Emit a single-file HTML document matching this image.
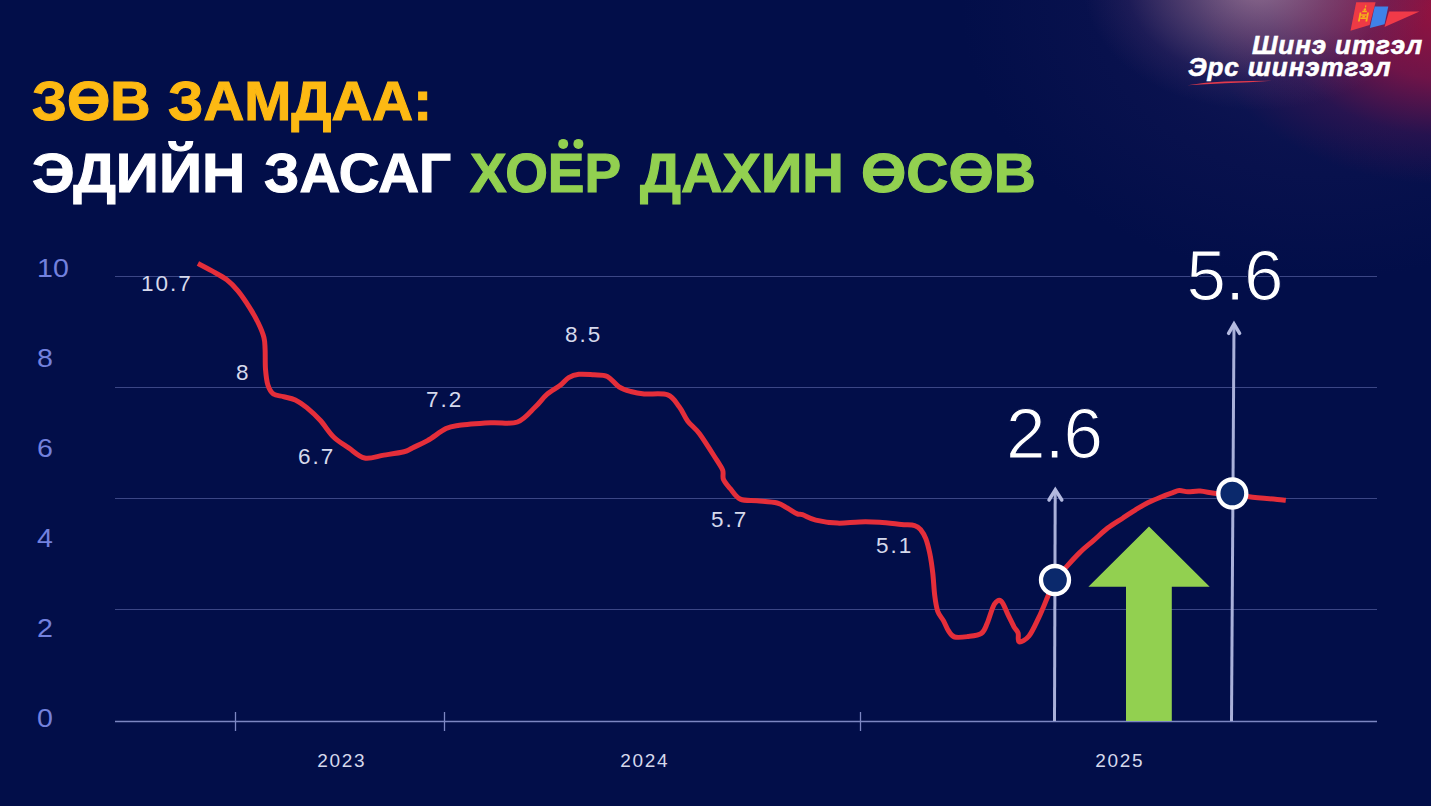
<!DOCTYPE html>
<html><head><meta charset="utf-8">
<style>
html,body{margin:0;padding:0;}
body{width:1431px;height:806px;overflow:hidden;position:relative;background:#020E49;font-family:"Liberation Sans",sans-serif;}
.bg{position:absolute;left:0;top:0;width:1431px;height:806px;
background:
radial-gradient(ellipse 175px 125px at 1258px -15px, rgba(180,140,165,0.72) 0%, rgba(150,105,140,0.5) 40%, rgba(95,60,115,0.22) 75%, rgba(1,15,72,0) 100%),
radial-gradient(ellipse 250px 175px at 1450px 10px, rgba(150,18,62,1) 0%, rgba(135,20,70,0.8) 40%, rgba(80,20,80,0.4) 72%, rgba(1,15,72,0) 100%),
radial-gradient(ellipse 360px 280px at 1320px 0px, rgba(55,45,110,0.4) 0%, rgba(35,30,95,0.22) 55%, rgba(1,15,72,0) 100%);
}
.t{position:absolute;white-space:nowrap;line-height:1;}
.title{font-weight:bold;font-size:56px;transform-origin:0 0;}
.ylab{color:#7381DE;font-size:26px;transform:scaleX(1.1);transform-origin:0 0;}
.dlab{color:#D6D9EC;font-size:22.5px;letter-spacing:2px;}
.xlab{color:#D6D9EC;font-size:19px;letter-spacing:1.7px;}
.big{color:#fff;font-size:71px;letter-spacing:-0.8px;-webkit-text-stroke:1.2px #020E49;}
.logo{color:#fff;font-weight:bold;font-style:italic;font-size:26px;letter-spacing:0.9px;-webkit-text-stroke:0.6px #fff;transform-origin:0 0;}
</style></head><body>
<div class="bg"></div>
<div class="t title" style="left:32.4px;top:73px;color:#FDB913;transform:scaleX(0.995);-webkit-text-stroke:1.1px #FDB913">ЗӨВ</div>
<div class="t title" style="left:168.2px;top:73px;color:#FDB913;transform:scaleX(1.009);-webkit-text-stroke:1.1px #FDB913">ЗАМДАА:</div>
<div class="t title" style="left:32.1px;top:144.85px;color:#fff;transform:scaleX(1.07);-webkit-text-stroke:1.1px #fff">ЭДИЙН</div>
<div class="t title" style="left:264.3px;top:144.85px;color:#fff;transform:scaleX(1.009);-webkit-text-stroke:1.1px #fff">ЗАСАГ</div>
<div class="t title" style="left:470.3px;top:144.85px;color:#92D050;transform:scaleX(0.98);-webkit-text-stroke:1.1px #92D050">ХОЕР</div>
<div class="t title" style="left:640.3px;top:144.85px;color:#92D050;transform:scaleX(1.028);-webkit-text-stroke:1.1px #92D050">ДАХИН</div>
<div class="t title" style="left:860.9px;top:144.85px;color:#92D050;transform:scaleX(1.041);-webkit-text-stroke:1.1px #92D050">ӨСӨВ</div>

<svg style="position:absolute;left:0;top:0" width="1431" height="806">
  <g stroke="#3B4685" stroke-width="1">
    <line x1="115" y1="276.5" x2="1377" y2="276.5"/>
    <line x1="115" y1="387.5" x2="1377" y2="387.5"/>
    <line x1="115" y1="498.5" x2="1377" y2="498.5"/>
    <line x1="115" y1="609.5" x2="1377" y2="609.5"/>
  </g>
  <g stroke="#7C86C2" stroke-width="1.3">
    <line x1="115" y1="721.5" x2="1377" y2="721.5"/>
    <line x1="235.5" y1="712" x2="235.5" y2="731"/>
    <line x1="444.5" y1="712" x2="444.5" y2="731"/>
    <line x1="860.5" y1="712" x2="860.5" y2="731"/>
  </g>
  <path id="redline" fill="none" stroke="#E42E3A" stroke-width="5" stroke-linejoin="round" stroke-linecap="butt" d="M197.9,263.5 C200.2,264.7 207.1,268.2 211.9,270.9 C216.7,273.6 222.5,276.5 226.8,279.8 C231.1,283.1 233.9,286.1 237.7,290.7 C241.5,295.3 246.1,302.1 249.6,307.6 C253.1,313.1 256.1,318.5 258.5,323.5 C260.9,328.5 262.8,333.1 263.9,337.4 C265.0,341.7 264.8,344.0 265.1,349.3 C265.4,354.6 265.0,363.2 265.5,369.2 C266.0,375.2 266.6,381.0 267.9,385.1 C269.2,389.2 270.8,392.1 273.4,394.0 C276.0,395.9 279.8,395.6 283.4,396.6 C287.0,397.6 291.4,398.1 295.3,400.0 C299.2,401.9 302.7,404.3 306.8,407.7 C310.9,411.1 315.7,415.4 320.2,420.3 C324.7,425.2 328.9,432.4 333.6,437.0 C338.4,441.6 343.5,444.4 348.7,447.9 C353.9,451.4 358.7,456.8 364.6,458.0 C370.5,459.2 377.3,456.1 383.9,455.1 C390.5,454.1 399.2,453.0 404.0,451.8 C408.8,450.6 408.5,449.8 412.4,447.9 C416.3,446.0 421.9,443.9 427.5,440.7 C433.1,437.5 440.7,431.2 446.0,428.6 C451.3,426.0 451.8,426.3 459.4,425.3 C466.9,424.3 481.6,423.4 491.3,422.8 C501.0,422.2 510.2,424.6 517.5,422.0 C524.8,419.4 530.3,411.6 535.2,407.0 C540.1,402.4 542.7,398.0 546.9,394.4 C551.1,390.8 556.7,388.0 560.3,385.2 C563.9,382.4 565.6,379.4 568.7,377.6 C571.8,375.8 574.6,374.8 578.8,374.3 C583.0,373.8 589.1,374.5 593.9,374.8 C598.6,375.1 603.1,374.4 607.3,376.4 C611.5,378.4 615.1,384.3 619.0,386.8 C622.9,389.3 626.6,390.3 630.8,391.5 C635.0,392.7 638.1,393.4 644.2,394.0 C650.4,394.6 661.8,392.7 667.7,394.9 C673.6,397.1 676.0,402.6 679.4,407.0 C682.8,411.4 684.4,416.7 687.8,421.2 C691.1,425.7 694.7,427.3 699.5,433.8 C704.3,440.3 712.9,454.1 716.8,460.2 C720.7,466.3 721.6,467.1 722.7,470.3 C723.8,473.5 722.2,476.4 723.5,479.5 C724.8,482.6 727.5,485.4 730.3,488.7 C733.1,492.0 735.8,497.1 740.3,499.1 C744.8,501.1 751.0,500.2 757.1,500.8 C763.2,501.4 772.2,501.8 777.2,503.0 C782.2,504.2 783.9,506.2 787.3,508.0 C790.6,509.8 794.8,512.8 797.3,513.9 C799.8,515.0 799.3,513.7 802.4,514.7 C805.5,515.7 809.9,518.7 815.8,520.1 C821.7,521.5 830.3,522.8 837.6,523.1 C844.9,523.4 852.4,522.0 859.4,521.9 C866.4,521.8 872.5,521.8 879.5,522.2 C886.5,522.6 895.4,523.8 901.3,524.4 C907.2,525.0 911.5,524.7 914.7,525.6 C918.0,526.5 918.9,527.6 920.8,529.8 C922.6,532.0 924.3,534.7 925.8,538.7 C927.3,542.7 928.6,547.8 929.8,553.6 C931.0,559.4 932.0,566.5 932.8,573.4 C933.6,580.3 933.9,589.0 934.7,595.3 C935.5,601.6 936.2,606.9 937.7,611.2 C939.2,615.5 941.9,617.8 943.7,621.1 C945.5,624.4 946.8,628.4 948.6,631.0 C950.4,633.6 951.5,636.1 954.6,637.0 C957.8,637.9 963.0,637.2 967.5,636.6 C972.0,636.0 978.1,635.6 981.4,633.4 C984.7,631.1 985.1,628.0 987.3,623.1 C989.4,618.2 992.0,607.9 994.3,604.2 C996.6,600.6 998.9,599.4 1001.2,601.2 C1003.5,603.0 1006.1,610.8 1008.2,615.1 C1010.4,619.4 1012.5,624.0 1014.1,627.0 C1015.8,630.0 1017.3,630.5 1018.1,633.0 C1018.9,635.5 1017.3,641.4 1019.1,641.9 C1020.9,642.4 1025.7,640.1 1029.0,636.0 C1032.3,631.9 1035.8,623.7 1039.0,617.1 C1042.2,610.5 1045.2,602.5 1047.9,596.3 C1050.6,590.1 1051.9,585.0 1055.0,580.0 C1058.1,575.0 1062.5,571.2 1066.6,566.6 C1070.7,562.0 1075.2,557.0 1079.7,552.6 C1084.2,548.2 1089.0,544.5 1093.7,540.4 C1098.4,536.3 1102.8,531.9 1107.7,528.1 C1112.7,524.3 1118.8,520.8 1123.4,517.7 C1128.1,514.7 1131.5,512.3 1135.6,509.8 C1139.7,507.3 1143.4,505.0 1147.8,502.8 C1152.2,500.6 1157.7,498.4 1161.8,496.7 C1165.9,495.0 1169.4,493.8 1172.3,492.8 C1175.2,491.8 1176.7,490.8 1179.3,490.6 C1181.9,490.4 1184.5,491.7 1188.0,491.8 C1191.5,491.9 1195.5,490.8 1200.2,491.1 C1204.9,491.4 1210.6,493.1 1216.0,493.5 C1221.4,493.9 1227.1,492.7 1232.6,493.2 C1238.1,493.7 1240.3,495.5 1249.2,496.7 C1258.1,497.9 1279.7,499.6 1285.8,500.2"/>
  <!-- vertical arrows -->
  <g stroke="#A9B0D9" stroke-width="3" fill="#A9B0D9">
    <line x1="1055.2" y1="490" x2="1054.5" y2="721"/>
    <line x1="1234" y1="324" x2="1231.5" y2="721"/>
  </g>
  <polyline fill="none" stroke="#B4BAE0" stroke-width="3.5" stroke-linecap="round" stroke-linejoin="miter" points="1049,500 1055.3,489.8 1061.8,500"/>
  <polyline fill="none" stroke="#B4BAE0" stroke-width="3.5" stroke-linecap="round" stroke-linejoin="miter" points="1228.6,333.3 1234,324 1239.6,333.3"/>
  <circle cx="563.2" cy="143.9" r="5" fill="#92D050"/><circle cx="578.4" cy="143.9" r="5" fill="#92D050"/>
  <!-- green arrow -->
  <polygon fill="#92D050" points="1149,526.6 1209.7,586.7 1171.8,586.7 1171.8,721 1126,721 1126,586.7 1088.4,586.7"/>
  <!-- circles -->
  <circle cx="1055" cy="580" r="14" fill="#0B296C" stroke="#fff" stroke-width="4.3"/>
  <circle cx="1232.3" cy="493.5" r="14" fill="#0B296C" stroke="#fff" stroke-width="4.3"/>
  <!-- flag -->
  <polygon fill="#EE3A45" points="1356.2,2.2 1375.6,2.2 1369.6,25.1 1350.5,30.8"/>
  <polygon fill="#3F82E8" points="1374.7,6.4 1388.3,6.4 1384.5,24.2 1369.9,28"/>
  <polygon fill="#F03A48" points="1389,11.4 1419.5,11.4 1384.5,27"/>
  <g fill="#F5B21A" transform="translate(0,14) skewX(-11) translate(0,-14)">
    <path d="M1364.2,4.6 Q1365.6,6.6 1364.2,8 Q1362.8,6.6 1364.2,4.6Z"/>
    <circle cx="1364" cy="9.6" r="1.3"/>
    <rect x="1361.8" y="10.8" width="4.6" height="1.4"/>
    <rect x="1359.4" y="12.6" width="1.8" height="9"/>
    <rect x="1366.9" y="12.6" width="1.8" height="9"/>
    <rect x="1361.2" y="14.2" width="5.7" height="1.5"/>
    <rect x="1361.2" y="17.6" width="5.7" height="1.5"/>
    <rect x="1362.8" y="15.7" width="2.6" height="1.9"/>
  </g>
  <!-- logo swoosh -->
  <path d="M1187.5,85.2 Q1205,82.2 1225,81.6 Q1250,80.9 1272,80.7 Q1250,82.2 1225,83.2 Q1205,84.2 1187.5,85.2Z" fill="#E23A4C"/>
</svg>

<div class="t ylab" style="left:37px;top:255px;">10</div>
<div class="t ylab" style="left:37px;top:345px;">8</div>
<div class="t ylab" style="left:37px;top:435px;">6</div>
<div class="t ylab" style="left:37px;top:525px;">4</div>
<div class="t ylab" style="left:37px;top:615px;">2</div>
<div class="t ylab" style="left:37px;top:705px;">0</div>

<div class="t dlab" style="left:141px;top:273px;">10.7</div>
<div class="t dlab" style="left:236px;top:362px;">8</div>
<div class="t dlab" style="left:298px;top:446px;">6.7</div>
<div class="t dlab" style="left:426px;top:389px;">7.2</div>
<div class="t dlab" style="left:565px;top:324px;">8.5</div>
<div class="t dlab" style="left:711px;top:509px;">5.7</div>
<div class="t dlab" style="left:876px;top:535px;">5.1</div>

<div class="t xlab" style="left:317.2px;top:751px;">2023</div>
<div class="t xlab" style="left:620.2px;top:751px;">2024</div>
<div class="t xlab" style="left:1095.2px;top:751px;">2025</div>

<div class="t big" style="left:1006px;top:397.8px;">2.6</div>
<div class="t big" style="left:1186.5px;top:240px;">5.6</div>

<div class="t logo" id="l1" style="left:1252px;top:32px;">Шинэ итгэл</div>
<div class="t logo" id="l2" style="left:1188px;top:54px;">Эрс шинэтгэл</div>
</body></html>
